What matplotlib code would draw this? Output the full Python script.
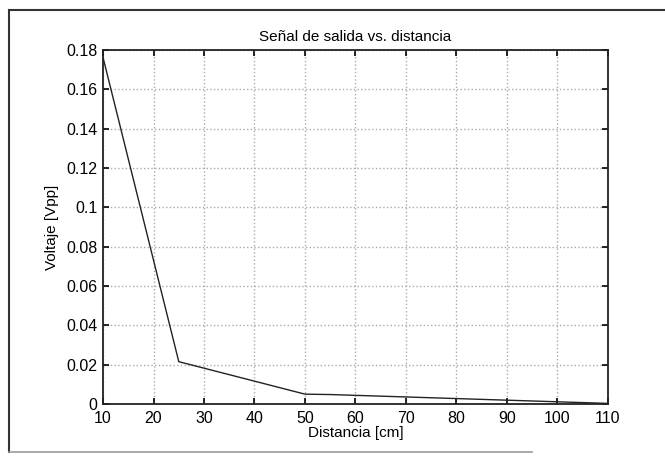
import matplotlib.pyplot as plt
from matplotlib.lines import Line2D

# distance [cm] vs output voltage [Vpp]
distancia = [10, 25, 50, 55, 110]
voltaje = [0.176, 0.0215, 0.005, 0.0048, 0.0003]

xticks = [10, 20, 30, 40, 50, 60, 70, 80, 90, 100, 110]
yticks = [0, 0.02, 0.04, 0.06, 0.08, 0.1, 0.12, 0.14, 0.16, 0.18]
yticklabels = ['0', '0.02', '0.04', '0.06', '0.08', '0.1', '0.12', '0.14', '0.16', '0.18']

plt.rcParams['font.family'] = ['Liberation Sans', 'DejaVu Sans']

fig = plt.figure(figsize=(6.65, 4.57), dpi=100)
ax = fig.add_axes([0.155, 0.116, 0.759, 0.775])

ax.plot(distancia, voltaje, color='#222222', linewidth=1.0)

ax.set_xlim(10, 110)
ax.set_ylim(0, 0.18)
ax.set_xticks(xticks)
ax.set_yticks(yticks)
ax.set_yticklabels(yticklabels)
ax.tick_params(direction='in', top=True, right=True, labelsize=11.5, length=4, width=1.2)
ax.tick_params(axis='x', pad=5)
ax.tick_params(axis='y', pad=4)
ax.grid(True, linestyle=':', color='#aaaaaa', linewidth=1.0)
for s in ax.spines.values():
    s.set_linewidth(1.3)
    s.set_color('#222222')

ax.set_title('Señal de salida vs. distancia', fontsize=11, pad=6)
ax.set_xlabel('Distancia [cm]', fontsize=11, labelpad=0)
ax.set_ylabel('Voltaje [Vpp]', fontsize=11, labelpad=5)

# scanned page border (left, top, bottom)
fig.add_artist(Line2D([0.013, 0.013], [0.01, 0.978], color='#333333', lw=1.5))
fig.add_artist(Line2D([0.013, 1.0], [0.978, 0.978], color='#333333', lw=1.5))
fig.add_artist(Line2D([0.013, 0.8], [0.01, 0.01], color='#999999', lw=1.2))

fig.savefig('out.png', dpi=100)
